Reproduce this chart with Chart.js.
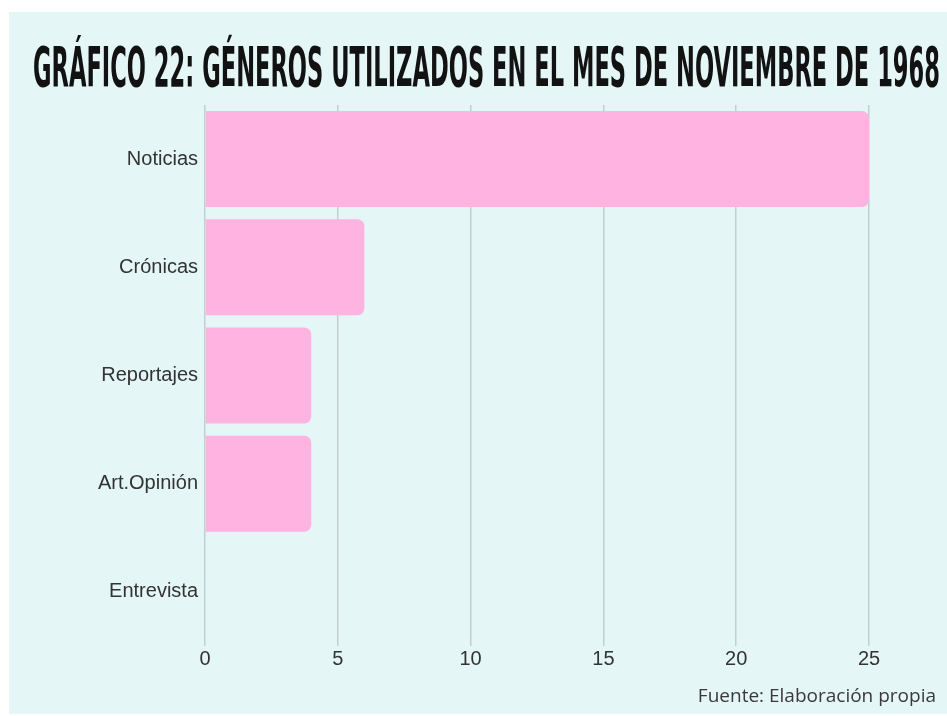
<!DOCTYPE html>
<html>
<head>
<meta charset="utf-8">
<script src="https://cdn.jsdelivr.net/npm/chart.js@4/dist/chart.umd.min.js"></script>
<style>
  html, body { margin: 0; padding: 0; background: #ffffff; }
  #wrap {
    position: absolute; left: 9px; top: 12px;
    width: 938px; height: 702px;
    background: #e4f6f5;
  }
</style>
</head>
<body>
<div id="wrap"><canvas id="myChart" width="938" height="702"></canvas></div>
<script>
const titulo = "GRÁFICO 22: GÉNEROS UTILIZADOS EN EL MES DE NOVIEMBRE DE 1968";
const fuente = "Fuente: Elaboración propia";
const generos = ["Noticias", "Crónicas", "Reportajes", "Art.Opinión", "Entrevista"];
const cantidades = [25, 6, 4, 4, 0];
const ticksX = [0, 5, 10, 15, 20, 25];

// titulo y fuente dibujados sobre el canvas
const textos = {
  id: "textos",
  afterDraw(chart) {
    const ctx = chart.ctx;
    ctx.save();
    ctx.fillStyle = "#121212";
    ctx.font = "bold 55px 'DejaVu Sans Condensed', 'Liberation Sans Narrow', sans-serif";
    ctx.textBaseline = "alphabetic";
    ctx.textAlign = "left";
    const w = ctx.measureText(titulo).width;
    const ancho = 907;
    ctx.translate(24, 74);
    ctx.scale(ancho / w, 1);
    ctx.fillText(titulo, 0, 0);
    ctx.restore();

    ctx.save();
    ctx.fillStyle = "#3a3a3a";
    ctx.font = "19px 'Open Sans', sans-serif";
    ctx.textAlign = "right";
    ctx.textBaseline = "alphabetic";
    ctx.fillText(fuente, 927, 690);
    ctx.restore();
  }
};

const config = {
  type: "bar",
  data: {
    labels: generos,
    datasets: [{
      data: cantidades,
      backgroundColor: "#ffb3e0",
      borderWidth: 0,
      borderRadius: 7,
      borderSkipped: "start",
      categoryPercentage: 1,
      barPercentage: 0.887,
    }],
  },
  options: {
    indexAxis: "y",
    responsive: false,
    animation: false,
    layout: { padding: { top: 93, right: 78, bottom: 48, left: 0 } },
    scales: {
      x: {
        min: 0,
        max: 25,
        afterBuildTicks: (s) => { s.ticks = ticksX.map((v) => ({ value: v })); },
        afterFit: (s) => { s.height = 20; },
        grid: { color: "#c3cfcf", lineWidth: 1.5, drawTicks: false },
        border: { display: false },
        ticks: { padding: 1, color: "#333", font: { family: "'Liberation Sans', Arial, sans-serif", size: 20 } },
      },
      y: {
        afterFit: (s) => { s.width = 196; },
        grid: { display: false, drawTicks: false },
        border: { display: false },
        ticks: { padding: 7, color: "#333", font: { family: "'Liberation Sans', Arial, sans-serif", size: 20 } },
      },
    },
    plugins: {
      legend: { display: false },
      tooltip: { enabled: false },
    },
  },
  plugins: [textos],
};

const myChart = new Chart(document.getElementById("myChart"), config);
</script>
</body>
</html>
